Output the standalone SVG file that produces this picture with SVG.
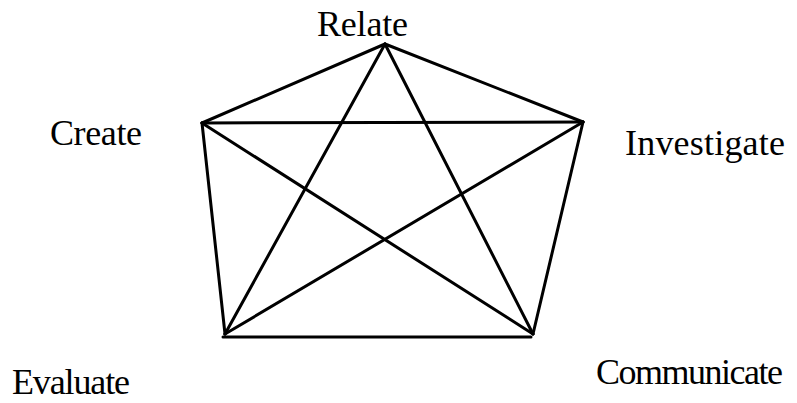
<svg xmlns="http://www.w3.org/2000/svg" width="797" height="403" viewBox="0 0 797 403">
<style>
.l{stroke:#000;stroke-width:3;fill:none;stroke-linecap:round}
.t{font-family:"Liberation Serif","Times New Roman",serif;font-size:36px;fill:#000}
</style>
<rect width="797" height="403" fill="#fff"/>
<g id="connectors">
<line class="l" x1="385" y1="44" x2="202" y2="123"/>
<line class="l" x1="385" y1="44" x2="583" y2="122"/>
<line class="l" x1="202" y1="123" x2="583" y2="122"/>
<line class="l" x1="385" y1="44" x2="225" y2="334"/>
<line class="l" x1="385" y1="44" x2="533" y2="334"/>
<line class="l" x1="202" y1="123" x2="533" y2="334"/>
<line class="l" x1="583" y1="122" x2="225" y2="334"/>
<line class="l" x1="202" y1="123" x2="225" y2="334"/>
<line class="l" x1="583" y1="122" x2="533" y2="334"/>
<line class="l" x1="223" y1="337" x2="531" y2="337"/>
</g>
<g id="relate"><text class="t" x="317" y="36" textLength="91">Relate</text></g>
<g id="create"><text class="t" x="50" y="145" textLength="92">Create</text></g>
<g id="investigate"><text class="t" x="625" y="155" textLength="160">Investigate</text></g>
<g id="communicate"><text class="t" x="596" y="384" textLength="187">Communicate</text></g>
<g id="evaluate"><text class="t" x="12" y="394" textLength="118">Evaluate</text></g>
</svg>
